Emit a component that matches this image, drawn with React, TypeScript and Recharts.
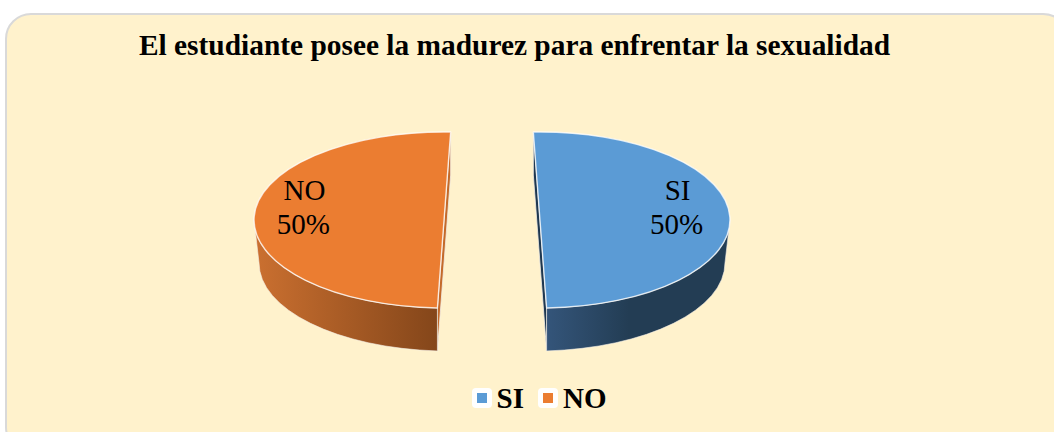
import { Legend, Pie, PieChart } from "recharts";

// Encuesta: madurez del estudiante, SI / NO
const categories = ["SI", "NO"];
const values = [50, 50];
const topColors = ["#5B9BD5", "#EB7D31"];
const title = "El estudiante posee la madurez para enfrentar la sexualidad";

const data = categories.map((name, i) => ({ name, value: values[i], fill: topColors[i] }));

const FONT = "'Liberation Serif', 'Times New Roman', serif";
const RAD = Math.PI / 180;
const TILT = 88 / 190; // aplastado del disco
const DEPTH = 43;
const EXPLODE = 48;
const NO_TWIST = -4; // la perspectiva abre la porcion NO en espejo de SI

// caras laterales por porcion: [claro, oscuro, corte]
const walls: Record<string, string[]> = {
  SI: ["#34557A", "#233D54", "#1F3850"],
  NO: ["#CB7030", "#84461A", "#C46A2A"],
};

function Slice3D(props: any) {
  const { cx, cy, outerRadius: r, midAngle, name, fill } = props;
  const isRight = name === "SI";
  const twist = isRight ? 0 : NO_TWIST;
  const startAngle = props.startAngle + twist;
  const endAngle = props.endAngle + twist;
  const ox = cx + EXPLODE * Math.cos(midAngle * RAD);
  const oy = cy;
  const pt = (a: number, rr = r, dy = 0): [number, number] => [
    ox + rr * Math.cos(a * RAD),
    oy - r * TILT * Math.sin(a * RAD) * (rr / r) + dy,
  ];
  const a = pt(startAngle);
  const b = pt(endAngle);
  const ry = r * TILT;
  const top = `M${ox},${oy} L${a[0]},${a[1]} A${r},${ry} 0 0 1 ${b[0]},${b[1]} Z`;

  // pared exterior: solo la mitad de abajo se ve
  const from = isRight ? 0 : startAngle;
  const to = isRight ? endAngle : -180;
  const wA = pt(from);
  const wB = pt(to);
  const bottomR = r - 5;
  const bA = pt(from, isRight ? bottomR : r, DEPTH);
  const bB = pt(to, isRight ? r : bottomR, DEPTH);
  const wall = `M${wA[0]},${wA[1]} A${r},${ry} 0 0 1 ${wB[0]},${wB[1]} L${bB[0]},${bB[1]} A${r},${ry} 0 0 0 ${bA[0]},${bA[1]} Z`;
  const cut = `M${a[0]},${a[1]} L${b[0]},${b[1]} L${b[0]},${b[1] + DEPTH} L${a[0]},${a[1] + DEPTH} Z`;

  const [light, dark, cutColor] = walls[name];
  const gradId = `wall-${name}`;
  return (
    <g>
      <defs>
        <linearGradient id={gradId} x1="0" y1="0" x2="1" y2="0">
          <stop offset="0" stopColor={light} />
          {isRight && <stop offset="0.45" stopColor={dark} />}
          <stop offset="1" stopColor={dark} />
        </linearGradient>
      </defs>
      <path d={cut} fill={cutColor} stroke="#F3EFE6" strokeWidth={0.8} />
      <path d={wall} fill={`url(#${gradId})`} stroke="#F3EFE6" strokeWidth={0.6} />
      <path d={top} fill={fill} stroke="#FFFFFF" strokeOpacity={0.75} strokeWidth={1.4} strokeLinejoin="round" />
    </g>
  );
}

function SliceLabel(props: any) {
  const { cx, cy, midAngle, outerRadius: r, name, value } = props;
  const ox = cx + EXPLODE * Math.cos(midAngle * RAD);
  const x = ox + r * 0.73 * Math.cos(midAngle * RAD) - 2;
  return (
    <text x={x} y={cy - 20} textAnchor="middle" fontFamily={FONT} fontSize={29} fill="#000">
      <tspan x={x + 1}>{name}</tspan>
      <tspan x={x} dy={34}>{`${value}%`}</tspan>
    </text>
  );
}

function LegendRow() {
  return (
    <div style={{ display: "flex", justifyContent: "center", alignItems: "center", fontFamily: FONT }}>
      {data.map((d) => (
        <div key={d.name} style={{ display: "flex", alignItems: "center", marginRight: d.name === "SI" ? 14 : 0 }}>
          <span
            style={{
              width: 20,
              height: 20,
              borderRadius: 4,
              background: "#fff",
              display: "flex",
              alignItems: "center",
              justifyContent: "center",
              marginRight: 5,
            }}
          >
            <span style={{ width: 10, height: 10, background: d.fill, display: "block" }} />
          </span>
          <span style={{ fontSize: 29, fontWeight: 700, color: "#000", lineHeight: "32px" }}>{d.name}</span>
        </div>
      ))}
    </div>
  );
}

export default function App() {
  return (
    <div style={{ position: "fixed", left: 0, top: 0, width: 1054, height: 432, overflow: "hidden", background: "#fff" }}>
      <div
        style={{
          position: "absolute",
          left: 5,
          top: 13,
          width: 1064,
          height: 440,
          boxSizing: "border-box",
          background: "#FFF2CC",
          border: "2px solid #D9D9D9",
          borderRadius: 26,
        }}
      />
      <div
        style={{
          position: "absolute",
          left: 0,
          top: 28,
          width: 1029,
          textAlign: "center",
          fontFamily: FONT,
          fontWeight: 700,
          fontSize: 29.4,
          lineHeight: "34px",
          color: "#000",
          whiteSpace: "nowrap",
        }}
      >
        {title}
      </div>
      <div style={{ position: "absolute", left: 0, top: 0 }}>
        <PieChart width={1054} height={432} margin={{ top: 0, right: 0, bottom: 0, left: 0 }}>
          <Pie
            data={data}
            dataKey="value"
            nameKey="name"
            cx={492}
            cy={220}
            outerRadius={190}
            startAngle={92}
            endAngle={-268}
            paddingAngle={0}
            stroke="none"
            shape={Slice3D}
            label={SliceLabel}
            labelLine={false}
            isAnimationActive={false}
          />
          <Legend content={<LegendRow />} verticalAlign="bottom" wrapperStyle={{ left: 0, width: 1078, bottom: 18 }} />
        </PieChart>
      </div>
    </div>
  );
}
